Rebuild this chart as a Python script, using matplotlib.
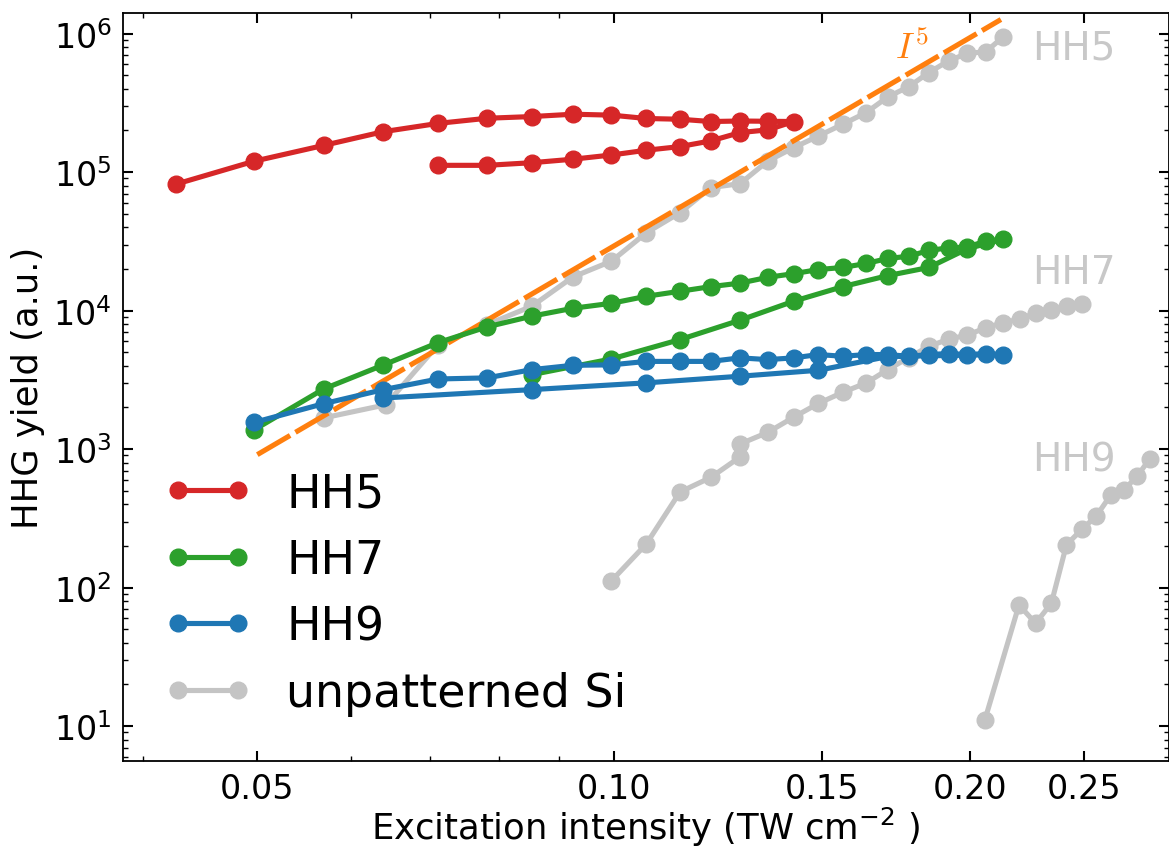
import matplotlib
matplotlib.use("Agg")
import matplotlib.pyplot as plt
from matplotlib.ticker import FixedLocator, FormatStrFormatter, LogLocator, NullFormatter

# ---------------- data ----------------
hh5_x = [0.0427, 0.0497, 0.0569, 0.0639, 0.0711, 0.0782, 0.0853, 0.0924, 0.0996, 0.1066,
         0.1138, 0.1208, 0.1279, 0.1350, 0.1420, 0.1350, 0.1279, 0.1208, 0.1138, 0.1066,
         0.0996, 0.0924, 0.0853, 0.0782, 0.0711]
hh5_y = [8.2e4, 1.20e5, 1.56e5, 1.96e5, 2.25e5, 2.45e5, 2.52e5, 2.62e5, 2.58e5, 2.44e5,
         2.41e5, 2.32e5, 2.34e5, 2.33e5, 2.32e5, 2.02e5, 1.93e5, 1.68e5, 1.53e5, 1.44e5,
         1.33e5, 1.24e5, 1.17e5, 1.12e5, 1.12e5]

hh7_x = [0.0497, 0.0569, 0.0639, 0.0711, 0.0782, 0.0853, 0.0924, 0.0996, 0.1066, 0.1138,
         0.1208, 0.1279, 0.1350, 0.1420, 0.1490, 0.1562, 0.1635, 0.1705, 0.1776, 0.1847,
         0.1919, 0.1991, 0.2063, 0.2134,
         0.1991, 0.1847, 0.1705, 0.1562, 0.1420, 0.1279, 0.1138, 0.0996, 0.0853]
hh7_y = [1380, 2720, 4050, 5880, 7640, 9120, 10400, 11300, 12700, 13800,
         14900, 15800, 17400, 18500, 19800, 20500, 21900, 23800, 24700, 27200,
         28400, 28800, 31800, 32800,
         28000, 20500, 17900, 14900, 11700, 8530, 6180, 4480, 3450]

hh9_x = [0.0497, 0.0569, 0.0639, 0.0711, 0.0782, 0.0853, 0.0924, 0.0996, 0.1066, 0.1138,
         0.1208, 0.1279, 0.1350, 0.1420, 0.1490, 0.1562, 0.1635, 0.1705, 0.1776, 0.1847,
         0.1919, 0.1991, 0.2063, 0.2134,
         0.1705, 0.1490, 0.1279, 0.1066, 0.0853, 0.0639]
hh9_y = [1560, 2130, 2690, 3210, 3270, 3750, 4030, 4060, 4300, 4300,
         4300, 4560, 4430, 4560, 4820, 4680, 4820, 4820, 4680, 4820,
         4900, 4820, 4900, 4820,
         4660, 3710, 3360, 3010, 2690, 2340]

si5_x = [0.0569, 0.0642, 0.0711, 0.0782, 0.0853, 0.0924, 0.0996, 0.1066, 0.1138, 0.1208,
         0.1279, 0.1350, 0.1420, 0.1490, 0.1562, 0.1635, 0.1705, 0.1776, 0.1847, 0.1919,
         0.1991, 0.2063, 0.2134]
si5_y = [1680, 2090, 5690, 7940, 10760, 17500, 22760, 36500, 50950, 77300,
         82600, 120300, 150400, 182400, 221700, 269300, 349000, 413800, 524000, 635800,
         722600, 738800, 948000]

si7_x = [0.0996, 0.1066, 0.1138, 0.1208, 0.1279, 0.1279, 0.1350, 0.1420, 0.1490, 0.1562,
         0.1635, 0.1705, 0.1776, 0.1847, 0.1919, 0.1991, 0.2063, 0.2134, 0.2204, 0.2273,
         0.2344, 0.2418, 0.2488]
si7_y = [112, 207, 490, 624, 877, 1089, 1321, 1702, 2140, 2570,
         3006, 3750, 4580, 5530, 6210, 6670, 7510, 8200, 8670, 9640,
         10070, 10760, 11200]

si9_x = [0.2059, 0.2201, 0.2273, 0.2344, 0.2414, 0.2488, 0.2559, 0.2632, 0.2699, 0.2769, 0.2838]
si9_y = [11.0, 75, 55.3, 77, 204, 264, 330, 468, 508, 635, 848]

fit_x = [0.05, 0.2125]
fit_amp = 2.92e9      # I^5 guide line amplitude
fit_y = [fit_amp * v ** 5 for v in fit_x]

xticks = [0.05, 0.10, 0.15, 0.20, 0.25]
series_labels = ["HH5", "HH7", "HH9", "unpatterned Si"]

# ---------------- style ----------------
c_red = "#d62728"
c_green = "#2ca02c"
c_blue = "#1f77b4"
c_gray = "#c4c4c4"
c_orange = "#ff7f0e"
lw = 3.7
ms = 12

fig = plt.figure(figsize=(11.69, 8.53), dpi=100)
ax = fig.add_axes([0.1052, 0.1067, 0.8945, 0.8769])

kw = dict(marker="o", lw=lw, ms=ms, solid_capstyle="round")
ax.plot(si5_x, si5_y, color=c_gray, label=series_labels[3], zorder=2, **kw)
ax.plot(si7_x, si7_y, color=c_gray, zorder=2, **kw)
ax.plot(si9_x, si9_y, color=c_gray, zorder=2, **kw)
ax.plot(fit_x, fit_y, color=c_orange, lw=lw, dashes=(7.4, 1.2), zorder=3)
ax.plot(hh5_x, hh5_y, color=c_red, label=series_labels[0], zorder=4, **kw)
ax.plot(hh7_x, hh7_y, color=c_green, label=series_labels[1], zorder=5, **kw)
ax.plot(hh9_x, hh9_y, color=c_blue, label=series_labels[2], zorder=6, **kw)

ax.set_xscale("log")
ax.set_yscale("log")
ax.set_xlim(0.0385, 0.2945)
ax.set_ylim(5.6, 1.41e6)

ax.xaxis.set_major_locator(FixedLocator(xticks))
ax.xaxis.set_major_formatter(FormatStrFormatter("%.2f"))
ax.xaxis.set_minor_locator(LogLocator(base=10, subs=range(2, 10)))
ax.xaxis.set_minor_formatter(NullFormatter())
ax.yaxis.set_minor_locator(LogLocator(base=10, subs=range(2, 10), numticks=20))

ax.tick_params(which="both", direction="in", top=True, right=True, labelsize=24)
ax.tick_params(which="major", length=7, width=1.5, pad=8)
ax.tick_params(which="minor", length=3.5, width=1.0)
for s in ax.spines.values():
    s.set_linewidth(1.3)

ax.set_xlabel(r"Excitation intensity (TW cm$^{-2}$ )", fontsize=25.5, labelpad=0)
ax.set_ylabel("HHG yield (a.u.)", fontsize=25.5, labelpad=6)

ax.text(0.1786, 8.0e5, r"$I^5$", color=c_orange, fontsize=26, ha="center", va="center",
        math_fontfamily="cm")
ax.text(0.2256, 8.0e5, "HH5", color="#c8c8c8", fontsize=28, ha="left", va="center")
ax.text(0.2256, 1.886e4, "HH7", color="#c8c8c8", fontsize=28, ha="left", va="center")
ax.text(0.2256, 838, "HH9", color="#c8c8c8", fontsize=28, ha="left", va="center")

handles, labels = ax.get_legend_handles_labels()
order = [labels.index(l) for l in series_labels]
ax.legend([handles[i] for i in order], [labels[i] for i in order],
          loc="center left", bbox_to_anchor=(0.018, 0.224), frameon=False,
          fontsize=33, borderpad=0, labelspacing=0.47, handlelength=1.9,
          handletextpad=0.75, numpoints=2)

fig.savefig("out.png", dpi=100)
